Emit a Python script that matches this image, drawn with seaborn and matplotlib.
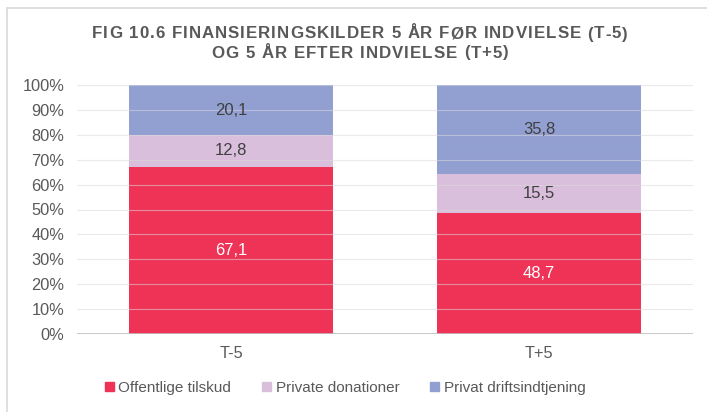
import matplotlib
matplotlib.use("Agg")
import matplotlib.pyplot as plt
import seaborn as sns
import pandas as pd
import numpy as np
from matplotlib.patches import Rectangle
from matplotlib.font_manager import FontProperties

categories = ["T-5", "T+5"]
series_names = ["Offentlige tilskud", "Private donationer", "Privat driftsindtjening"]
offentlige = [67.1, 48.7]
donationer = [12.8, 15.5]
drift = [20.1, 35.8]
yticks = [0, 10, 20, 30, 40, 50, 60, 70, 80, 90, 100]
title_lines = ["FIG 10.6 FINANSIERINGSKILDER 5 ÅR FØR INDVIELSE (T-5)",
               "OG 5 ÅR EFTER INDVIELSE (T+5)"]

colors = ["#EE3356", "#DABFDD", "#919FD1"]
label_colors = ["white", "#404040", "#404040"]

sns.set_theme(style="white")
plt.rcParams["font.family"] = ["Liberation Sans", "DejaVu Sans"]

W, H = 707, 412
fig = plt.figure(figsize=(W / 100, H / 100), dpi=100)
ax = fig.add_axes([77/W, 1-334/H, (693-77)/W, (334-85)/H])

vals = [offentlige, donationer, drift]
cum = np.cumsum(np.array(vals), axis=0)
df = pd.DataFrame({"cat": categories})
# draw from top layer down so each stack overlap shows correctly
for i in range(len(vals) - 1, -1, -1):
    df["v"] = cum[i]
    sns.barplot(data=df, x="cat", y="v", color=colors[i], saturation=1,
                width=0.662, ax=ax, zorder=1, linewidth=0, errorbar=None)

# labels
for i in range(len(vals)):
    for j, c in enumerate(categories):
        lo = cum[i][j] - vals[i][j]
        mid = lo + vals[i][j] / 2
        ax.text(j, mid, f"{vals[i][j]:.1f}".replace(".", ","), ha="center", va="center",
                fontsize=12, color=label_colors[i], zorder=5)

ax.set_xlim(-0.5, 1.5)
ax.set_ylim(0, 100)
ax.set_yticks(yticks)
ax.set_yticklabels([f"{t}%" for t in yticks])
ax.set_xlabel("")
ax.set_ylabel("")
for s in ax.spines.values():
    s.set_visible(False)
for t in yticks[1:]:
    ax.axhline(t, color="#d9d9d9", lw=0.8, alpha=0.55, zorder=3)
ax.axhline(0, color="#bfbfbf", lw=1.2, zorder=4)
ax.tick_params(axis="both", length=0, labelsize=11.8, colors="#595959")
ax.tick_params(axis="x", pad=9)
ax.tick_params(axis="y", pad=9)

# letter-spaced title
renderer = fig.canvas.get_renderer()
fp = FontProperties(family=["Liberation Sans", "DejaVu Sans"], weight="bold", size=12.2)

def char_widths(s):
    return [renderer.get_text_width_height_descent(ch, fp, ismath=False)[0] for ch in s]

w1 = char_widths(title_lines[0])
target1 = 628 - 92
gap = (target1 - sum(w1)) / (len(w1) - 1)
baselines = [38.5, 57.5]
for line, base in zip(title_lines, baselines):
    ws = char_widths(line)
    total = sum(ws) + gap * (len(ws) - 1)
    x = 360 - total / 2
    for ch, w in zip(line, ws):
        fig.text(x / W, 1 - base / H, ch, ha="left", va="baseline",
                 fontproperties=fp, color="#595959")
        x += w + gap

handles = [Rectangle((0, 0), 1, 1, color=c) for c in colors]
fig.legend(handles, series_names, loc="center", bbox_to_anchor=(345/W, 1-388/H),
           ncol=3, frameon=False, fontsize=11, handlelength=0.6, handleheight=0.6,
           handletextpad=0.3, columnspacing=2.0, labelcolor="#595959")

fig.add_artist(Rectangle((7/W, -0.1), 1.2, 1 - 8/H + 0.1, transform=fig.transFigure,
                         fill=False, edgecolor="#d9d9d9", lw=1.2))

fig.savefig("out.png", dpi=100)
